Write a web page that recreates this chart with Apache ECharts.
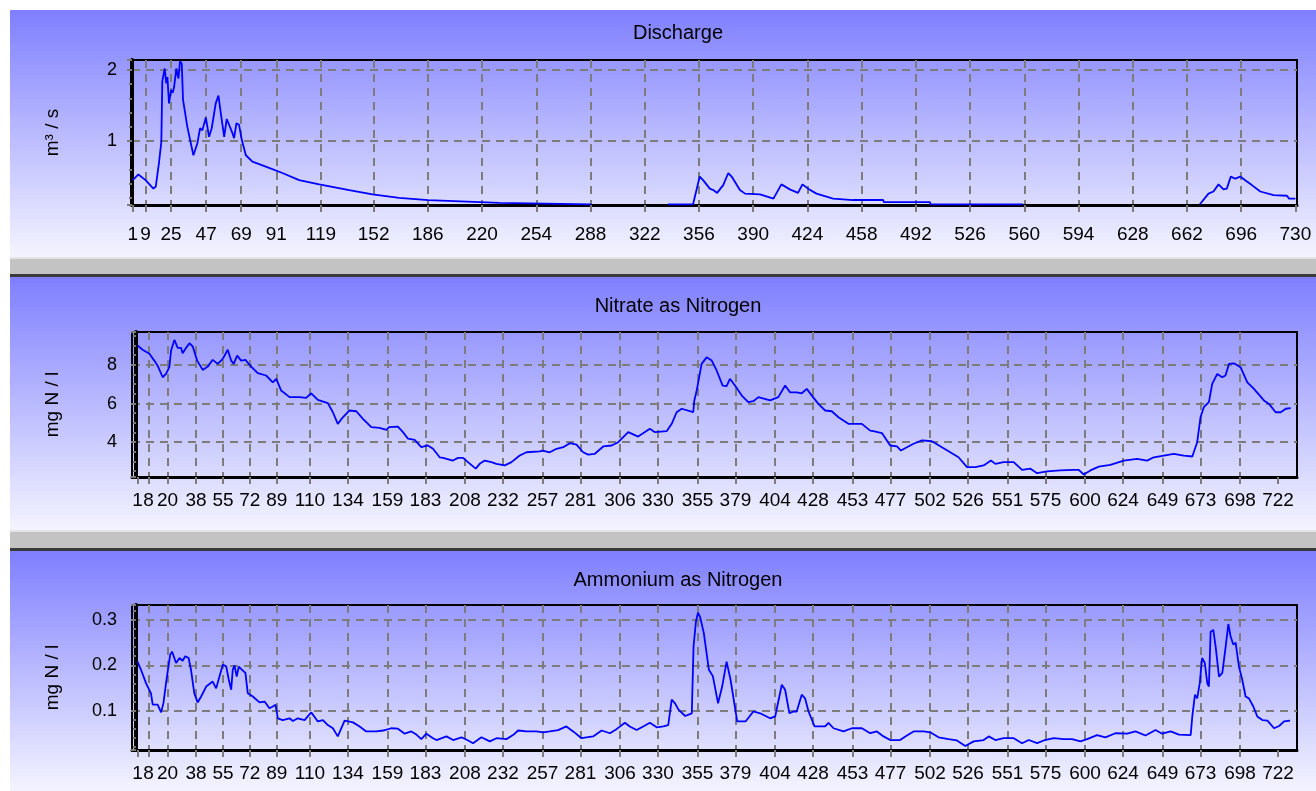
<!DOCTYPE html>
<html>
<head>
<meta charset="utf-8">
<title>Discharge / Nitrate / Ammonium</title>
<script src="https://cdn.jsdelivr.net/npm/echarts@6/dist/echarts.min.js"></script>
<style>
  html, body { margin: 0; padding: 0; background: #fff; }
  #chart { width: 1316px; height: 791px; }
</style>
</head>
<body>
<div id="chart"></div>
<script>
// day numbers printed under each panel
const dischargeTicks = [1, 9, 25, 47, 69, 91, 119, 152, 186, 220, 254, 288, 322, 356, 390, 424, 458, 492, 526, 560, 594, 628, 662, 696, 730]
const nitrogenTicks = [1, 8, 20, 38, 55, 72, 89, 110, 134, 159, 183, 208, 232, 257, 281, 306, 330, 355, 379, 404, 428, 453, 477, 502, 526, 551, 575, 600, 624, 649, 673, 698, 722]

// y labels
const dischargeLabels = [1, 2]
const nitrateLabels = [4, 6, 8]
const ammoniumLabels = [0.1, 0.2, 0.3]

// Discharge, m3/s (null = no record)
const dischargeDays = [1, 4.5, 9, 13.9, 15.4, 17.4, 18.9, 19.5, 21, 22, 22.7, 23.7, 25, 26, 26.9, 28.3, 29.6, 30.6, 31.7, 32.5, 35.2, 39, 41.5, 43.2, 44.6, 46.8, 48.8, 50.5, 53, 54.7, 56.2, 58.3, 59.9, 61, 63.5, 64.5, 66, 67.6, 69.4, 71.9, 76, 84.4, 94.8, 105.3, 117.9, 136.7, 151.3, 168, 186.3, 202.6, 203, 230.9, 231.5, 288.4, 289, 336.5, 352.3, 356.5, 358.6, 362.8, 365, 367.4, 371.2, 374.4, 376.5, 381.7, 384.9, 394.3, 402.7, 407.7, 413, 418.1, 420.9, 424.4, 429.7, 440.1, 452.7, 471.5, 472, 500.8, 501.3, 559.3, 560, 670.1, 675.5, 678.6, 681.8, 684.9, 687, 689.5, 692.3, 695.4, 699.6, 702.7, 708, 716.3, 724.7, 726, 730]
const dischargeValues = [0.45, 0.53, 0.45, 0.33, 0.36, 0.69, 0.99, 1.84, 2.02, 1.81, 1.9, 1.53, 1.72, 1.68, 1.76, 2.02, 1.88, 2.12, 2.09, 1.58, 1.2, 0.8, 0.97, 1.18, 1.15, 1.33, 1.06, 1.18, 1.53, 1.64, 1.39, 1.06, 1.31, 1.3, 1.11, 1.04, 1.25, 1.23, 1.01, 0.8, 0.71, 0.64, 0.55, 0.45, 0.39, 0.31, 0.25, 0.2, 0.17, 0.155, 0.14, 0.13, 0.12, 0.11, null, 0.11, 0.11, 0.5, 0.45, 0.33, 0.31, 0.27, 0.38, 0.55, 0.5, 0.31, 0.26, 0.25, 0.19, 0.39, 0.32, 0.27, 0.39, 0.33, 0.26, 0.19, 0.17, 0.17, 0.14, 0.14, 0.11, 0.11, null, 0.11, 0.26, 0.29, 0.39, 0.32, 0.33, 0.5, 0.47, 0.5, 0.43, 0.38, 0.29, 0.24, 0.23, 0.19, 0.19]

// Nitrate as nitrogen, mg N/l
const nitrateDays = [1, 4.2, 8.5, 11.6, 13.7, 16.9, 19, 21.1, 22.2, 24.3, 26.4, 28.5, 29.5, 31.7, 33.8, 35.9, 38.7, 42.2, 45.4, 48.5, 51.7, 54.9, 58, 60.2, 61.8, 64, 66.5, 69.2, 72.8, 77, 82.3, 86.5, 88.7, 91.8, 97.1, 103.4, 107.6, 110.8, 115, 121.3, 124.5, 127.6, 130.8, 135, 139.3, 143.5, 148.8, 154, 158.3, 160, 165.6, 168.8, 172, 176.2, 180.4, 184.6, 187.8, 192, 194.1, 200.4, 203.6, 206.8, 209.9, 214.8, 217.3, 220.5, 224.7, 227.9, 233.2, 237.4, 242.6, 246.9, 255.3, 257, 261.6, 265.9, 270.1, 274.3, 278.5, 282.7, 285.9, 290.1, 295.4, 300.7, 304.9, 311.2, 317.5, 324.9, 328.1, 335.5, 338.7, 341.8, 345, 352.3, 353, 354.5, 357.6, 360.8, 364, 367.1, 370.9, 373.4, 375.5, 378.7, 383, 387.1, 390.3, 393.5, 400.9, 406.1, 410.4, 413.5, 417.7, 420.9, 424.1, 427.3, 431.4, 435.7, 439.9, 444.1, 450.4, 458.9, 464.2, 466.2, 471.6, 476.8, 481.1, 483.6, 487.4, 491.6, 496.9, 503.2, 509.5, 514.8, 520, 525.4, 530.6, 535.9, 540.5, 543.3, 548.5, 554.9, 560.2, 565.5, 569.7, 576, 584.4, 592.8, 596, 599.2, 603.4, 608.7, 616, 624.5, 632.9, 639.2, 643.5, 656.1, 662.4, 667.8, 670.9, 673, 675.1, 678.3, 680.4, 683.6, 686.7, 688.8, 691, 694.1, 698.3, 702.6, 706.8, 713.1, 716.3, 720.5, 723.7, 726.9, 730]
const nitrateValues = [9.0, 8.78, 8.57, 8.22, 7.96, 7.36, 7.53, 7.88, 8.74, 9.29, 8.88, 8.88, 8.6, 8.88, 9.12, 8.95, 8.22, 7.74, 7.91, 8.26, 8.05, 8.31, 8.78, 8.22, 8.05, 8.48, 8.22, 8.26, 7.91, 7.57, 7.45, 7.1, 7.28, 6.67, 6.33, 6.33, 6.29, 6.53, 6.19, 6.02, 5.55, 4.95, 5.29, 5.64, 5.6, 5.21, 4.78, 4.74, 4.64, 4.78, 4.81, 4.52, 4.18, 4.12, 3.74, 3.83, 3.66, 3.22, 3.19, 3.05, 3.19, 3.19, 2.97, 2.63, 2.88, 3.05, 2.97, 2.88, 2.8, 2.97, 3.31, 3.48, 3.53, 3.57, 3.48, 3.66, 3.74, 3.95, 3.87, 3.48, 3.36, 3.4, 3.78, 3.83, 4.0, 4.52, 4.29, 4.69, 4.52, 4.57, 4.95, 5.55, 5.73, 5.55, 6.16, 6.67, 8.05, 8.39, 8.22, 7.71, 6.93, 6.9, 7.28, 6.93, 6.41, 6.07, 6.12, 6.33, 6.16, 6.33, 6.93, 6.58, 6.58, 6.53, 6.76, 6.41, 5.98, 5.64, 5.6, 5.29, 4.95, 4.95, 4.6, 4.57, 4.47, 3.83, 3.78, 3.57, 3.74, 3.92, 4.09, 4.05, 3.74, 3.48, 3.22, 2.71, 2.71, 2.8, 3.05, 2.88, 2.97, 2.97, 2.57, 2.63, 2.4, 2.49, 2.54, 2.57, 2.57, 2.33, 2.54, 2.74, 2.83, 3.05, 3.14, 3.05, 3.22, 3.4, 3.31, 3.26, 4.0, 5.29, 5.81, 6.07, 7.02, 7.53, 7.36, 7.45, 8.05, 8.08, 7.88, 7.1, 6.76, 6.16, 5.98, 5.55, 5.55, 5.73, 5.76]

// Ammonium as nitrogen, mg N/l
const ammoniumDays = [1, 3.2, 6.4, 9.5, 10.6, 13.7, 15.9, 17.4, 19, 21.6, 22.8, 25.4, 27.5, 29.5, 31.2, 33.3, 34.8, 36.9, 39, 41.2, 44.4, 48.5, 50.7, 52.8, 54.9, 57, 58.7, 60.2, 61.2, 62.3, 63.7, 65, 67.1, 69.2, 70.7, 73.9, 78.1, 81.3, 84.4, 86.5, 88.2, 89.7, 92.8, 97.1, 99.2, 102.3, 106.6, 110.8, 115, 118.2, 121.3, 124.5, 127.6, 131.9, 137.2, 141.4, 145.6, 152, 156.3, 161.4, 165.6, 169.9, 174.1, 177.3, 180.4, 183.6, 187.8, 190, 196.3, 200.5, 205.8, 210, 213.1, 218.4, 223.7, 227.9, 234.2, 238.4, 241.6, 246.9, 253.2, 257.4, 261.6, 266.9, 272.1, 276.4, 281.7, 289, 294.4, 299.6, 303.8, 309.1, 312.2, 316.5, 320.7, 324.9, 329.2, 333.4, 336.5, 338.7, 340.8, 343, 347.2, 351.4, 352.5, 354, 355.3, 356.7, 359, 362.2, 364.7, 368, 370.6, 373.4, 375.9, 380.1, 385.4, 390.3, 394.6, 400.9, 404.1, 408.3, 410.4, 413.1, 415.7, 417.7, 420.9, 423, 425.2, 429, 435.7, 437.8, 441, 447.3, 452.6, 458.9, 464.2, 468.4, 472.6, 476.8, 483.1, 487.4, 491.6, 497.9, 502.1, 507.4, 513.7, 519, 524.3, 529.6, 535.9, 539.1, 543.3, 548.5, 554.9, 560.2, 564.4, 569.7, 573.9, 580.2, 586.5, 591.8, 597.1, 601.3, 607.6, 612.9, 619.2, 626.6, 631.9, 638.2, 644.6, 648.8, 654.1, 659.4, 666.8, 667.8, 669.5, 670.9, 672.5, 674, 675.7, 677.3, 678.3, 679.4, 681.1, 682.6, 684.7, 686.8, 688.9, 690.6, 692, 693.7, 695.2, 697.3, 699.4, 701.5, 703.6, 706.4, 708.9, 712.1, 715.3, 719.5, 722.7, 725.8, 729.6]
const ammoniumValues = [0.208, 0.19, 0.16, 0.138, 0.113, 0.113, 0.096, 0.117, 0.16, 0.223, 0.23, 0.205, 0.216, 0.21, 0.22, 0.216, 0.19, 0.138, 0.118, 0.131, 0.153, 0.164, 0.149, 0.175, 0.201, 0.198, 0.168, 0.146, 0.19, 0.2, 0.175, 0.197, 0.19, 0.183, 0.138, 0.131, 0.118, 0.12, 0.105, 0.109, 0.113, 0.083, 0.079, 0.083, 0.077, 0.083, 0.079, 0.096, 0.076, 0.079, 0.068, 0.061, 0.043, 0.078, 0.074, 0.065, 0.054, 0.054, 0.056, 0.061, 0.06, 0.049, 0.054, 0.047, 0.037, 0.049, 0.039, 0.035, 0.043, 0.035, 0.041, 0.034, 0.028, 0.041, 0.032, 0.039, 0.037, 0.046, 0.056, 0.054, 0.054, 0.052, 0.054, 0.057, 0.065, 0.054, 0.039, 0.043, 0.056, 0.05, 0.059, 0.073, 0.065, 0.057, 0.065, 0.073, 0.063, 0.065, 0.068, 0.124, 0.116, 0.102, 0.088, 0.094, 0.241, 0.296, 0.316, 0.306, 0.271, 0.19, 0.176, 0.116, 0.153, 0.208, 0.168, 0.076, 0.076, 0.098, 0.094, 0.083, 0.087, 0.157, 0.146, 0.094, 0.098, 0.098, 0.135, 0.127, 0.098, 0.065, 0.065, 0.073, 0.061, 0.054, 0.061, 0.061, 0.05, 0.054, 0.043, 0.035, 0.035, 0.045, 0.054, 0.054, 0.052, 0.041, 0.037, 0.034, 0.022, 0.032, 0.035, 0.043, 0.035, 0.039, 0.039, 0.028, 0.035, 0.028, 0.034, 0.039, 0.037, 0.037, 0.032, 0.037, 0.046, 0.041, 0.05, 0.049, 0.054, 0.045, 0.057, 0.049, 0.054, 0.047, 0.046, 0.087, 0.135, 0.127, 0.16, 0.216, 0.205, 0.16, 0.153, 0.274, 0.278, 0.24, 0.175, 0.183, 0.241, 0.291, 0.264, 0.246, 0.25, 0.197, 0.168, 0.131, 0.127, 0.109, 0.087, 0.079, 0.078, 0.061, 0.066, 0.076, 0.078]

const font = '"Liberation Sans", Arial, sans-serif'
const gridColor = '#7c7c7c'

const panels = [
  { title: 'Discharge', unit: 'm³ / s', days: dischargeDays, values: dischargeValues, ticks: dischargeTicks, labels: dischargeLabels,
    top: 60, titleTop: 18, xMin: 0.5, xMax: 731, yMin: 0.1, yMax: 2.14, split: 2, minor: 5, margin: 20 },
  { title: 'Nitrate as Nitrogen', unit: 'mg N / l', days: nitrateDays, values: nitrateValues, ticks: nitrogenTicks, labels: nitrateLabels,
    top: 332, titleTop: 291, xMin: -2.5, xMax: 734, yMin: 2.2, yMax: 9.7, split: 4, minor: 4, margin: 14 },
  { title: 'Ammonium as Nitrogen', unit: 'mg N / l', days: ammoniumDays, values: ammoniumValues, ticks: nitrogenTicks, labels: ammoniumLabels,
    top: 605, titleTop: 565, xMin: -2.5, xMax: 734, yMin: 0.013, yMax: 0.333, split: 3, minor: 5, margin: 14 }
]

// panel backgrounds and grey separators
const bands = [[10, 257], [277, 530], [551, 791]]
const separators = [[257, 277], [530, 551]]

const chart = echarts.init(document.getElementById('chart'))

const graphic = []
bands.forEach(b => {
  graphic.push({
    type: 'rect', z: -10,
    shape: { x: 10, y: b[0], width: 1306, height: b[1] - b[0] },
    style: {
      fill: new echarts.graphic.LinearGradient(0, 0, 0, 1, [
        { offset: 0, color: '#7f7fff' },
        { offset: 1, color: '#f4f4ff' }
      ])
    }
  })
})
separators.forEach(s => {
  graphic.push({ type: 'rect', z: -10, shape: { x: 10, y: s[0], width: 1306, height: s[1] - s[0] }, style: { fill: '#c3c3c3' } })
  graphic.push({ type: 'rect', z: -10, shape: { x: 10, y: s[0], width: 1306, height: 2 }, style: { fill: '#e4e4e4' } })
  graphic.push({ type: 'rect', z: -10, shape: { x: 10, y: s[1] - 3, width: 1306, height: 3 }, style: { fill: '#3a3a3a' } })
})

const option = {
  animation: false,
  backgroundColor: '#fff',
  graphic: graphic,
  title: panels.map(p => ({
    text: p.title,
    left: 673,
    top: p.titleTop,
    textAlign: 'center',
    textStyle: { fontFamily: font, fontSize: 20, fontWeight: 'normal', color: '#000' }
  })),
  grid: panels.map(p => ({
    left: 132, right: 19, top: p.top, height: 145,
    show: true, borderColor: '#000', borderWidth: 2, backgroundColor: 'transparent',
    outerBoundsMode: 'none', containLabel: false
  })),
  xAxis: panels.map((p, i) => ({
    type: 'value', gridIndex: i, min: p.xMin, max: p.xMax,
    axisLine: { show: true, onZero: false, lineStyle: { color: '#000', width: 3 } },
    axisTick: { show: true, customValues: p.ticks, length: 7, lineStyle: { color: gridColor, width: 2 } },
    axisLabel: { customValues: p.ticks, margin: p.margin, color: '#000', fontFamily: font, fontSize: 19 },
    splitLine: { show: true, showMinLine: false, showMaxLine: false, lineStyle: { color: gridColor, width: 2, type: [8, 6] } }
  })),
  yAxis: panels.map((p, i) => ({
    type: 'value', gridIndex: i, min: p.yMin, max: p.yMax, splitNumber: p.split,
    name: p.unit, nameLocation: 'middle', nameGap: 70,
    nameTextStyle: { fontFamily: font, fontSize: 19, color: '#000' },
    axisLine: { show: true, lineStyle: { color: '#000', width: 4 } },
    axisTick: { show: true, length: 5, lineStyle: { color: gridColor, width: 2 } },
    minorTick: { show: true, splitNumber: p.minor, length: 3, lineStyle: { color: gridColor, width: 2 } },
    axisLabel: { customValues: p.labels, margin: 15, color: '#000', fontFamily: font, fontSize: 18 },
    splitLine: { show: true, showMinLine: false, showMaxLine: false, lineStyle: { color: gridColor, width: 2, type: [8, 6] } }
  })),
  series: panels.map((p, i) => ({
    type: 'line', xAxisIndex: i, yAxisIndex: i,
    data: p.days.map((d, k) => [d, p.values[k]]),
    showSymbol: false, connectNulls: false,
    lineStyle: { color: '#0000ff', width: 1.8 },
    itemStyle: { color: '#0000ff' }
  }))
}

chart.setOption(option)
</script>
</body>
</html>
